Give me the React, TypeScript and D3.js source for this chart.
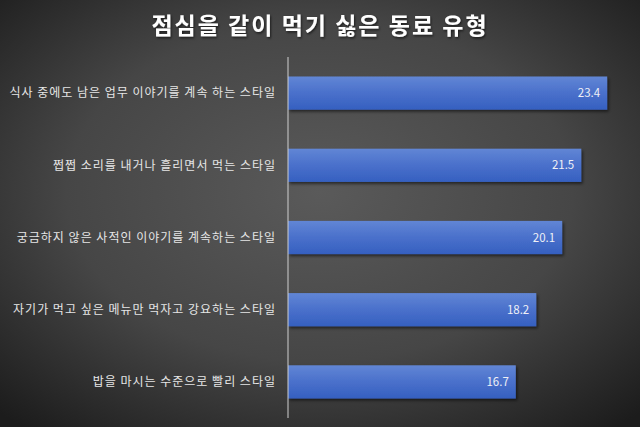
import React from "react";
import * as d3 from "d3";

const categories = [
  "식사 중에도 남은 업무 이야기를 계속 하는 스타일",
  "쩝쩝 소리를 내거나 흘리면서 먹는 스타일",
  "궁금하지 않은 사적인 이야기를 계속하는 스타일",
  "자기가 먹고 싶은 메뉴만 먹자고 강요하는 스타일",
  "밥을 마시는 수준으로 빨리 스타일",
];
const values = [23.4, 21.5, 20.1, 18.2, 16.7];
const title = "점심을 같이 먹기 싫은 동료 유형";

const W = 640;
const H = 427;
const margin = { left: 288, right: 0, top: 57, bottom: 9 };

export default function App() {
  const x = d3.scaleLinear().domain([0, 10]).range([margin.left, margin.left + 136.4]);
  const y = d3
    .scaleBand<string>()
    .domain(categories)
    .range([margin.top, H - margin.bottom])
    .paddingInner(0.54)
    .paddingOuter(0.27);
  const font = "'Noto Sans CJK KR', 'Noto Sans', sans-serif";
  return (
    <svg width={W} height={H} style={{ position: "absolute", left: 0, top: 0 }}>
      <defs>
        <radialGradient id="bg" cx="50%" cy="45%" r="72%">
          <stop offset="0%" stopColor="#5a5a5a" />
          <stop offset="55%" stopColor="#464646" />
          <stop offset="100%" stopColor="#1c1c1c" />
        </radialGradient>
        <linearGradient id="bar" x1="0" y1="0" x2="0" y2="1">
          <stop offset="0%" stopColor="#6186d5" />
          <stop offset="50%" stopColor="#4a70cb" />
          <stop offset="100%" stopColor="#3560c0" />
        </linearGradient>
        <filter id="sh" x="-5%" y="-20%" width="110%" height="150%">
          <feDropShadow dx="1.5" dy="2" stdDeviation="1.5" floodColor="#000" floodOpacity="0.55" />
        </filter>
        <filter id="tsh" x="-5%" y="-20%" width="110%" height="150%">
          <feDropShadow dx="1" dy="1.5" stdDeviation="1" floodColor="#000" floodOpacity="0.6" />
        </filter>
      </defs>
      <rect x={0} y={0} width={W} height={H} fill="url(#bg)" />
      <text
        x={W / 2}
        y={34}
        textAnchor="middle"
        fill="#ffffff"
        fontFamily={font}
        fontWeight="bold"
        fontSize={23}
        letterSpacing={2}
        filter="url(#tsh)"
      >
        {title}
      </text>
      {categories.map((c, i) => (
        <g key={c}>
          <rect
            x={x(0)}
            y={y(c)!}
            width={x(values[i]) - x(0)}
            height={y.bandwidth()}
            fill="url(#bar)"
            filter="url(#sh)"
          />
          <text
            x={x(values[i]) - 7}
            y={y(c)! + y.bandwidth() / 2}
            dy="0.36em"
            textAnchor="end"
            fill="#eef0f6"
            fontFamily={font}
            fontSize={11.5}
          >
            {values[i].toFixed(1)}
          </text>
          <text
            x={276}
            y={y(c)! + y.bandwidth() / 2}
            dy="0.36em"
            textAnchor="end"
            fill="#e6e6e6"
            fontFamily={font}
            fontSize={12}
            letterSpacing={1}
          >
            {c}
          </text>
        </g>
      ))}
      <line x1={x(0)} x2={x(0)} y1={margin.top} y2={H - margin.bottom} stroke="#d0d0d0" strokeWidth={1} />
    </svg>
  );
}
